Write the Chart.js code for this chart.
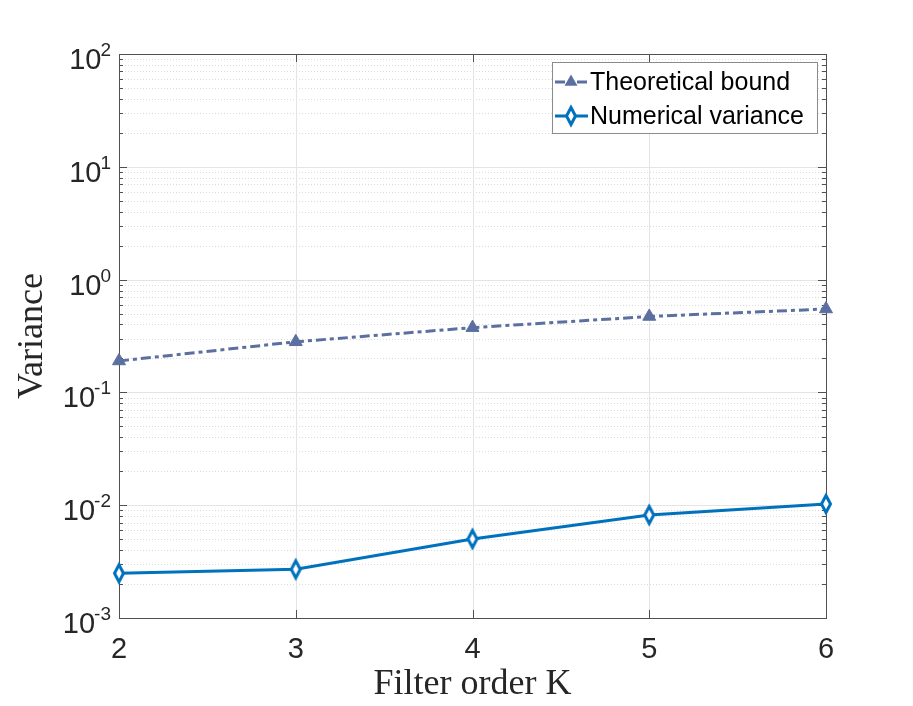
<!DOCTYPE html>
<html>
<head>
<meta charset="utf-8">
<script src="https://cdn.jsdelivr.net/npm/chart.js@4.4.1/dist/chart.umd.min.js"></script>
<style>
  html, body { margin: 0; padding: 0; background: #fff; }
  canvas { display: block; }
</style>
</head>
<body>
<canvas id="varianceChart" width="913" height="706"></canvas>
<script>
const filterOrders = [2, 3, 4, 5, 6];
const theoreticalBound = [0.190, 0.281, 0.375, 0.471, 0.549];
const numericalVariance = [0.00249, 0.00270, 0.00502, 0.00819, 0.01025];
const xTicks = [2, 3, 4, 5, 6];
const yDecades = [-3, -2, -1, 0, 1, 2];
const seriesNames = ['Theoretical bound', 'Numerical variance'];

const boundColor = '#5b6fa0';
const varianceColor = '#0072bd';
const axisColor = '#505050';
const labelColor = '#262626';

function makeDiamond() {
    const c = document.createElement('canvas');
    c.width = 18;
    c.height = 30;
    const g = c.getContext('2d');
    g.beginPath();
    g.moveTo(9, 6.5);
    g.lineTo(13.5, 15);
    g.lineTo(9, 23.5);
    g.lineTo(4.5, 15);
    g.closePath();
    g.fillStyle = '#fff';
    g.fill();
    g.lineWidth = 3;
    g.strokeStyle = varianceColor;
    g.stroke();
    return c;
}
const diamond = makeDiamond();

function drawTriangle(ctx, x, y, r) {
    ctx.beginPath();
    ctx.moveTo(x, y - r);
    ctx.lineTo(x + r * 0.866, y + r / 2);
    ctx.lineTo(x - r * 0.866, y + r / 2);
    ctx.closePath();
    ctx.fillStyle = boundColor;
    ctx.fill();
}

// grid, box, ticks and tick labels in MATLAB style
const axesPlugin = {
    id: 'matlabAxes',
    beforeDatasetsDraw(chart) {
        const { ctx, chartArea: a, scales: { x, y } } = chart;
        ctx.save();

        // minor grid (dotted)
        ctx.lineWidth = 1;
        ctx.strokeStyle = '#dadada';
        ctx.setLineDash([1, 2]);
        yDecades.forEach(d => {
            if (d === 2) return;
            for (let m = 2; m <= 9; m++) {
                const py = Math.round(y.getPixelForValue(m * Math.pow(10, d))) + 0.5;
                ctx.beginPath();
                ctx.moveTo(a.left, py);
                ctx.lineTo(a.right, py);
                ctx.stroke();
            }
        });
        ctx.setLineDash([]);

        // major grid
        ctx.strokeStyle = '#e4e4e4';
        yDecades.forEach(d => {
            const py = Math.round(y.getPixelForValue(Math.pow(10, d))) + 0.5;
            ctx.beginPath();
            ctx.moveTo(a.left, py);
            ctx.lineTo(a.right, py);
            ctx.stroke();
        });
        xTicks.forEach(t => {
            const px = Math.round(x.getPixelForValue(t)) + 0.5;
            ctx.beginPath();
            ctx.moveTo(px, a.top);
            ctx.lineTo(px, a.bottom);
            ctx.stroke();
        });

        // box
        ctx.strokeStyle = axisColor;
        ctx.strokeRect(Math.round(a.left) + 0.5, Math.round(a.top) + 0.5,
            Math.round(a.right - a.left), Math.round(a.bottom - a.top));

        // y ticks, both sides, inward
        yDecades.forEach(d => {
            for (let m = 1; m <= 9; m++) {
                if (d === 2 && m > 1) break;
                const len = m === 1 ? 8 : 4;
                const py = Math.round(y.getPixelForValue(m * Math.pow(10, d))) + 0.5;
                ctx.beginPath();
                ctx.moveTo(a.left, py);
                ctx.lineTo(a.left + len, py);
                ctx.moveTo(a.right, py);
                ctx.lineTo(a.right - len, py);
                ctx.stroke();
            }
        });
        // x ticks, top and bottom, inward
        xTicks.forEach(t => {
            const px = Math.round(x.getPixelForValue(t)) + 0.5;
            ctx.beginPath();
            ctx.moveTo(px, a.bottom);
            ctx.lineTo(px, a.bottom - 8);
            ctx.moveTo(px, a.top);
            ctx.lineTo(px, a.top + 8);
            ctx.stroke();
        });

        // tick labels
        ctx.fillStyle = labelColor;
        ctx.textBaseline = 'alphabetic';
        ctx.font = '29px "Liberation Sans", Arial, sans-serif';
        ctx.textAlign = 'center';
        xTicks.forEach(t => {
            ctx.fillText(String(t), x.getPixelForValue(t), a.bottom + 40);
        });

        ctx.textAlign = 'right';
        const labelRight = a.left - 8;
        yDecades.forEach(d => {
            const py = y.getPixelForValue(Math.pow(10, d));
            const exp = String(d);
            ctx.font = '19px "Liberation Sans", Arial, sans-serif';
            const expWidth = ctx.measureText(exp).width;
            ctx.fillText(exp, labelRight, py + 2);
            ctx.font = '29px "Liberation Sans", Arial, sans-serif';
            ctx.fillText('10', labelRight - expWidth + 1, py + 15);
        });

        // axis titles
        ctx.font = '36px "Liberation Serif", "Times New Roman", serif';
        ctx.fillStyle = '#262626';
        ctx.textAlign = 'center';
        ctx.fillText('Filter order K', (a.left + a.right) / 2, a.bottom + 76);
        ctx.save();
        ctx.translate(42, (a.top + a.bottom) / 2);
        ctx.rotate(-Math.PI / 2);
        ctx.fillText('Variance', 0, 0);
        ctx.restore();

        ctx.restore();
    },
    afterDatasetsDraw(chart) {
        const ctx = chart.ctx;
        ctx.save();
        // legend box
        ctx.fillStyle = '#fff';
        ctx.fillRect(552, 62, 265, 71);
        ctx.strokeStyle = '#8c8c8c';
        ctx.lineWidth = 1;
        ctx.strokeRect(552.5, 62.5, 265, 71);

        // theoretical bound sample
        ctx.strokeStyle = boundColor;
        ctx.lineWidth = 3;
        ctx.setLineDash([10, 4, 4, 4]);
        ctx.beginPath();
        ctx.moveTo(555, 82);
        ctx.lineTo(588, 82);
        ctx.stroke();
        ctx.setLineDash([]);
        drawTriangle(ctx, 571, 82, 7.5);

        // numerical variance sample
        ctx.strokeStyle = varianceColor;
        ctx.beginPath();
        ctx.moveTo(555, 116);
        ctx.lineTo(588, 116);
        ctx.stroke();
        ctx.drawImage(diamond, 571 - diamond.width / 2, 116 - diamond.height / 2);

        ctx.fillStyle = '#000';
        ctx.font = '25px "Liberation Sans", Arial, sans-serif';
        ctx.textAlign = 'left';
        ctx.textBaseline = 'alphabetic';
        ctx.fillText(seriesNames[0], 590, 90);
        ctx.fillText(seriesNames[1], 590, 124);
        ctx.restore();
    }
};

const ctx = document.getElementById('varianceChart').getContext('2d');
new Chart(ctx, {
    type: 'line',
    data: {
        datasets: [
            {
                label: seriesNames[0],
                data: filterOrders.map((k, i) => ({ x: k, y: theoreticalBound[i] })),
                borderColor: boundColor,
                backgroundColor: boundColor,
                borderWidth: 3,
                borderDash: [10, 4, 4, 4],
                pointStyle: 'triangle',
                pointRadius: 7.5,
                pointBorderWidth: 1,
                pointBackgroundColor: boundColor,
                pointBorderColor: boundColor,
                tension: 0,
                clip: false
            },
            {
                label: seriesNames[1],
                data: filterOrders.map((k, i) => ({ x: k, y: numericalVariance[i] })),
                borderColor: varianceColor,
                backgroundColor: '#fff',
                borderWidth: 3,
                pointStyle: diamond,
                pointRadius: 9,
                tension: 0,
                clip: false
            }
        ]
    },
    options: {
        responsive: false,
        animation: false,
        devicePixelRatio: 1,
        layout: { padding: { left: 119, right: 87, top: 54, bottom: 88 } },
        plugins: {
            legend: { display: false },
            tooltip: { enabled: false }
        },
        scales: {
            x: { type: 'linear', min: 2, max: 6, display: false },
            y: { type: 'logarithmic', min: 0.001, max: 100, display: false }
        }
    },
    plugins: [axesPlugin]
});
</script>
</body>
</html>
